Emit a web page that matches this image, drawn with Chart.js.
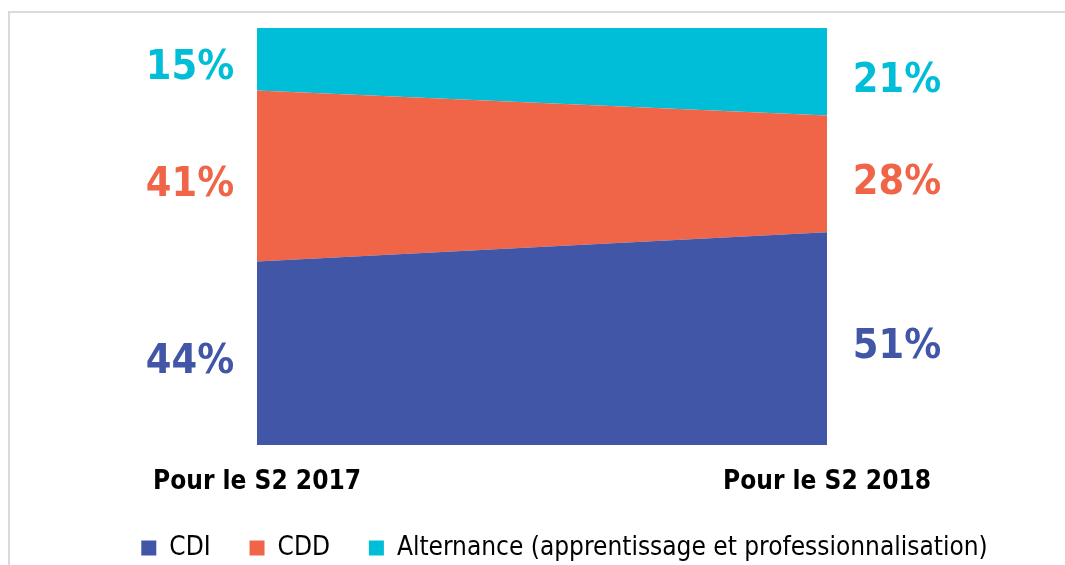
<!DOCTYPE html>
<html>
<head>
<meta charset="utf-8">
<script src="https://cdn.jsdelivr.net/npm/chart.js@4"></script>
<style>
  html, body { margin: 0; padding: 0; background: #fff; }
  #wrap { position: relative; width: 1065px; height: 565px; }
  #frame { position: absolute; left: 8px; top: 11px; right: -4px; bottom: -4px;
           border-left: 2px solid #d9d9d9; border-top: 2px solid #d9d9d9; }
  canvas { position: absolute; left: 0; top: 0; }
</style>
</head>
<body>
<div id="wrap">
  <div id="frame"></div>
  <canvas id="myChart" width="1065" height="565"></canvas>
</div>
<script>
var categories = ['Pour le S2 2017', 'Pour le S2 2018'];
var seriesNames = ['CDI', 'CDD', 'Alternance (apprentissage et professionnalisation)'];
var cdi = [44, 51];
var cdd = [41, 28];
var alternance = [15, 21];

var blue = '#4156a6';
var orange = '#f06548';
var cyan = '#00bed8';
var FONT = '"DejaVu Sans Condensed", "DejaVu Sans", sans-serif';

// keep the legend box short so the plot keeps its height
var legendHeight = {
    id: 'legendHeight',
    beforeInit: function(chart) {
        var lg = chart.legend;
        var fit = lg.fit;
        lg.fit = function() { fit.call(this); this.height = 69; };
    }
};

// percentage labels on both sides of the area
var sideLabels = {
    id: 'sideLabels',
    afterDatasetsDraw: function(chart) {
        var ctx = chart.ctx;
        var y = chart.scales.y;
        var size = 41;
        ctx.save();
        ctx.font = 'bold ' + size + 'px ' + FONT;
        ctx.textAlign = 'center';
        ctx.textBaseline = 'alphabetic';
        chart.data.datasets.forEach(function(ds, i) {
            var meta = chart.getDatasetMeta(i);
            ds.data.forEach(function(v, j) {
                var below = 0;
                for (var k = 0; k < i; k++) below += chart.data.datasets[k].data[j];
                var mid = (y.getPixelForValue(below) + y.getPixelForValue(below + v)) / 2 + 5;
                var px = meta.data[j].x + (j === 0 ? -67 : 70);
                ctx.fillStyle = ds.borderColor;
                ctx.fillText(v + '%', px, mid + size * 0.36);
            });
        });
        ctx.restore();
    }
};

var ctx = document.getElementById('myChart').getContext('2d');
var chart = new Chart(ctx, {
    type: 'line',
    data: {
        labels: categories,
        datasets: [
            { label: seriesNames[0], data: cdi, backgroundColor: blue, borderColor: blue, fill: 'origin' },
            { label: seriesNames[1], data: cdd, backgroundColor: orange, borderColor: orange, fill: '-1' },
            { label: seriesNames[2], data: alternance, backgroundColor: cyan, borderColor: cyan, fill: '-1' }
        ]
    },
    options: {
        responsive: false,
        animation: false,
        elements: {
            point: { radius: 0, hoverRadius: 0 },
            line: { borderWidth: 0, tension: 0 }
        },
        layout: { padding: { left: 64, right: 0, top: 28, bottom: 0 } },
        scales: {
            x: {
                offset: false,
                grid: { display: false, drawTicks: false },
                border: { display: false },
                ticks: {
                    autoSkip: false, maxRotation: 0, minRotation: 0, padding: 22,
                    color: '#000',
                    font: { family: FONT, size: 26, weight: 'bold' }
                },
                afterFit: function(s) { s.height = 51; }
            },
            y: {
                stacked: true, min: 0, max: 100,
                grid: { display: false, drawTicks: false },
                border: { display: false },
                ticks: { display: false },
                afterFit: function(s) { s.width = 193; }
            },
            yRight: {
                position: 'right',
                grid: { display: false, drawTicks: false },
                border: { display: false },
                ticks: { display: false },
                afterFit: function(s) { s.width = 238; }
            }
        },
        plugins: {
            tooltip: { enabled: false },
            legend: {
                position: 'bottom',
                labels: {
                    boxWidth: 15, boxHeight: 15, padding: 39,
                    color: '#000',
                    font: { family: FONT, size: 26 }
                }
            }
        }
    },
    plugins: [legendHeight, sideLabels]
});
</script>
</body>
</html>
